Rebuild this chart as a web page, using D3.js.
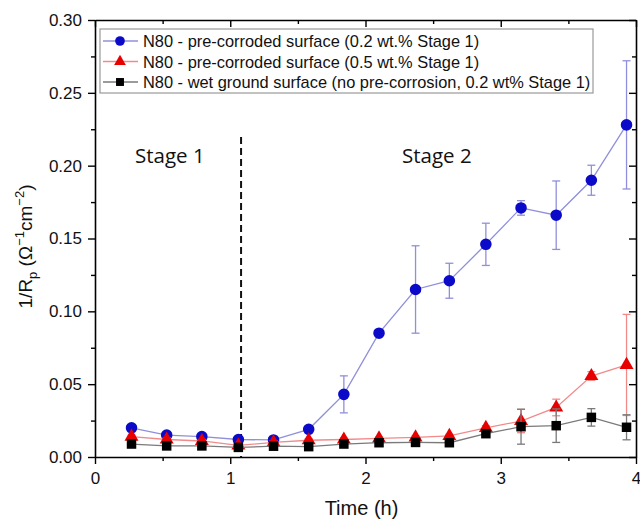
<!DOCTYPE html>
<html lang="en">
<head>
<meta charset="UTF-8" />
<title>1/Rp vs time</title>
<script src="https://cdn.jsdelivr.net/npm/d3@7"></script>
<style>
    body { margin: 0; background: #fff; }
    text { font-family: "Liberation Sans", Arial, sans-serif; }
</style>
</head>
<body>
<script>
    // data
    let times = [0.27, 0.53, 0.79, 1.06, 1.32, 1.58, 1.84, 2.10, 2.37, 2.62, 2.89, 3.15, 3.41, 3.67, 3.93];

    let bluePre02 = [0.020, 0.015, 0.014, 0.012, 0.0117, 0.019, 0.043, 0.085, 0.115, 0.121, 0.146, 0.171, 0.166, 0.190, 0.228];
    let bluePre02Err = [0.001, 0.001, 0.001, 0.001, 0.001, 0.001, 0.0127, 0.002, 0.030, 0.012, 0.0145, 0.005, 0.0235, 0.0103, 0.044];

    let redPre05 = [0.014, 0.012, 0.011, 0.008, 0.010, 0.0115, 0.012, 0.0128, 0.0135, 0.0145, 0.020, 0.0247, 0.034, 0.0556, 0.0632];
    let redPre05Err = [0.001, 0.001, 0.001, 0.001, 0.001, 0.001, 0.001, 0.001, 0.001, 0.001, 0.0015, 0.008, 0.0057, 0.003, 0.0347];

    let blackWet = [0.0089, 0.0076, 0.0076, 0.0066, 0.0074, 0.0071, 0.0089, 0.0098, 0.010, 0.0098, 0.016, 0.0208, 0.0215, 0.0272, 0.0204];
    let blackWetErr = [0.001, 0.0008, 0.0008, 0.0008, 0.0008, 0.0008, 0.001, 0.001, 0.001, 0.001, 0.0015, 0.012, 0.0115, 0.006, 0.0086];

    let legendLabels = [
        "N80 - pre-corroded surface (0.2 wt.% Stage 1)",
        "N80 - pre-corroded surface (0.5 wt.% Stage 1)",
        "N80 - wet ground surface (no pre-corrosion, 0.2 wt% Stage 1)"
    ];
    let xTicks = [0, 1, 2, 3, 4];
    let yTicks = [0, 0.05, 0.10, 0.15, 0.20, 0.25, 0.30];
    let stageBoundary = 1.08;

    let w = 640, h = 524;
    let margin = { top: 20, right: 4, bottom: 67, left: 95 };
    let iw = w - margin.left - margin.right;
    let ih = h - margin.top - margin.bottom;

    let svg = d3.select("body").append("svg")
        .attr("width", w)
        .attr("height", h);

    let g = svg.append("g")
        .attr("transform", `translate(${margin.left},${margin.top})`);

    let x = d3.scaleLinear().domain([0, 4]).range([0, iw]);
    let y = d3.scaleLinear().domain([0, 0.30]).range([ih, 0]);

    // minor ticks first
    let xMinor = d3.range(0.5, 4, 1);
    let yMinor = d3.range(0.025, 0.30, 0.05);

    function styleAxis(sel) {
        sel.selectAll("path").attr("stroke", "#000").attr("stroke-width", 1.6);
        sel.selectAll("line").attr("stroke", "#000").attr("stroke-width", 1.4);
        sel.selectAll("text").attr("font-size", 17).attr("fill", "#111");
    }

    g.append("g").attr("transform", `translate(0,${ih})`)
        .call(d3.axisBottom(x).tickValues(xMinor).tickSize(4).tickFormat(""))
        .call(s => s.select("path").remove()).call(styleAxis);
    g.append("g").call(d3.axisTop(x).tickValues(xMinor).tickSize(-4).tickFormat(""))
        .call(s => s.select("path").remove()).call(styleAxis);
    g.append("g").call(d3.axisLeft(y).tickValues(yMinor).tickSize(4).tickFormat(""))
        .call(s => s.select("path").remove()).call(styleAxis);
    g.append("g").attr("transform", `translate(${iw},0)`)
        .call(d3.axisRight(y).tickValues(yMinor).tickSize(-4).tickFormat(""))
        .call(s => s.select("path").remove()).call(styleAxis);

    // major axes
    g.append("g").attr("transform", `translate(0,${ih})`)
        .call(d3.axisBottom(x).tickValues(xTicks).tickSize(7).tickSizeOuter(0).tickPadding(8).tickFormat(d3.format("d")))
        .call(styleAxis);
    g.append("g").call(d3.axisTop(x).tickValues(xTicks).tickSize(-7).tickSizeOuter(0).tickFormat(""))
        .call(styleAxis);
    g.append("g")
        .call(d3.axisLeft(y).tickValues(yTicks).tickSize(7).tickSizeOuter(0).tickPadding(6).tickFormat(d3.format(".2f")))
        .call(styleAxis);
    g.append("g").attr("transform", `translate(${iw},0)`)
        .call(d3.axisRight(y).tickValues(yTicks).tickSize(-7).tickSizeOuter(0).tickFormat(""))
        .call(styleAxis);

    // stage divider
    g.append("line")
        .attr("x1", x(stageBoundary)).attr("x2", x(stageBoundary))
        .attr("y1", 117).attr("y2", ih)
        .attr("stroke", "#111").attr("stroke-width", 2)
        .attr("stroke-dasharray", "7,4");

    g.append("text").attr("x", 40).attr("y", 143)
        .style("font-family", "'Open Sans', sans-serif")
        .attr("font-size", 20.5).attr("fill", "#111").text("Stage 1");
    g.append("text").attr("x", 307).attr("y", 143)
        .style("font-family", "'Open Sans', sans-serif")
        .attr("font-size", 20.5).attr("fill", "#111").text("Stage 2");

    let series = [
        { vals: bluePre02, err: bluePre02Err, marker: d3.symbolCircle, size: 105, fill: "#0a0ac8", line: "#8f8fdc" },
        { vals: redPre05, err: redPre05Err, marker: d3.symbolTriangle, size: 85, fill: "#e80000", line: "#f28a8a" },
        { vals: blackWet, err: blackWetErr, marker: d3.symbolSquare, size: 90, fill: "#000", line: "#7a7a7a" }
    ];

    let line = d3.line().x(d => x(d[0])).y(d => y(d[1]));

    series.forEach(s => {
        let pts = times.map((t, i) => [t, s.vals[i], s.err[i]]);
        let sg = g.append("g");

        sg.append("path").datum(pts)
            .attr("d", line)
            .attr("fill", "none")
            .attr("stroke", s.line)
            .attr("stroke-width", 1.3);

        let eb = sg.selectAll(".eb").data(pts).enter().append("g");
        eb.append("line")
            .attr("x1", d => x(d[0])).attr("x2", d => x(d[0]))
            .attr("y1", d => y(d[1] + d[2])).attr("y2", d => y(d[1] - d[2]));
        eb.append("line")
            .attr("x1", d => x(d[0]) - 4).attr("x2", d => x(d[0]) + 4)
            .attr("y1", d => y(d[1] + d[2])).attr("y2", d => y(d[1] + d[2]));
        eb.append("line")
            .attr("x1", d => x(d[0]) - 4).attr("x2", d => x(d[0]) + 4)
            .attr("y1", d => y(d[1] - d[2])).attr("y2", d => y(d[1] - d[2]));
        eb.selectAll("line").attr("stroke", s.line).attr("stroke-width", 1.3);

        sg.selectAll(".mk").data(pts).enter().append("path")
            .attr("transform", d => `translate(${x(d[0])},${y(d[1])})`)
            .attr("d", d3.symbol().type(s.marker).size(s.size))
            .attr("fill", s.fill);
    });

    // legend
    let lg = svg.append("g").attr("transform", "translate(100,29)");
    lg.append("rect")
        .attr("width", 493).attr("height", 64)
        .attr("fill", "#fff").attr("stroke", "#999").attr("stroke-width", 1.2);
    series.forEach((s, i) => {
        let ly = 12 + i * 20.5;
        lg.append("line").attr("x1", 3).attr("x2", 38).attr("y1", ly).attr("y2", ly)
            .attr("stroke", s.line).attr("stroke-width", 1.3);
        lg.append("path")
            .attr("transform", `translate(20,${ly})`)
            .attr("d", d3.symbol().type(s.marker).size(s.size * 0.7))
            .attr("fill", s.fill);
        lg.append("text").attr("x", 43).attr("y", ly + 6)
            .attr("font-size", 16.4).attr("fill", "#111")
            .text(legendLabels[i]);
    });

    // axis titles
    svg.append("text")
        .attr("x", margin.left + iw / 2 - 4).attr("y", 515)
        .attr("text-anchor", "middle").attr("font-size", 20).attr("fill", "#111")
        .text("Time (h)");

    let yl = svg.append("text")
        .attr("transform", `translate(32,${margin.top + ih / 2 + 8}) rotate(-90)`)
        .attr("text-anchor", "middle").attr("font-size", 19).attr("fill", "#111");
    yl.append("tspan").text("1/R");
    yl.append("tspan").attr("font-size", 13).attr("dy", 5).text("p");
    yl.append("tspan").attr("dy", -5).text(" (Ω");
    yl.append("tspan").attr("font-size", 13).attr("dy", -8).text("−1");
    yl.append("tspan").attr("dy", 8).text("cm");
    yl.append("tspan").attr("font-size", 13).attr("dy", -8).text("−2");
    yl.append("tspan").attr("dy", 8).text(")");
</script>
</body>
</html>
